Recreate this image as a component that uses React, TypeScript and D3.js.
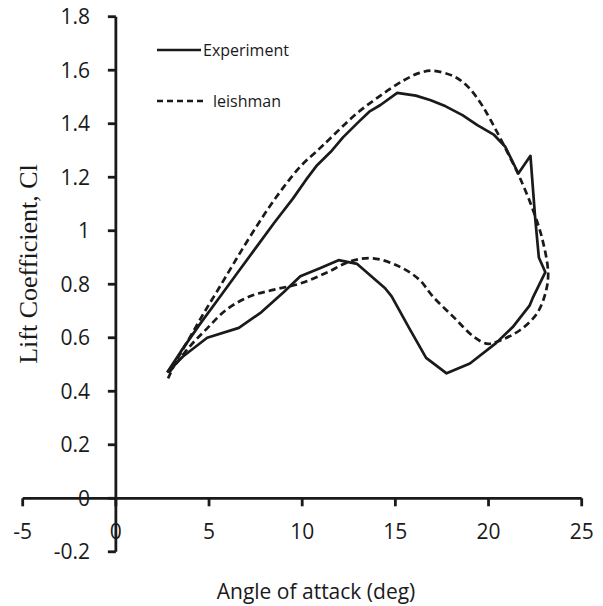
import React from "react";
import * as d3 from "d3";

const expAlpha = [2.75, 3.5, 4.5, 5.5, 6.5, 7.5, 8.5, 9.5, 10.2, 10.8, 11.6, 12.2, 13.0, 13.6, 14.2, 15.1, 16.1, 16.9, 17.7, 18.6, 19.4, 20.3, 20.9, 21.6, 22.25, 22.5, 22.7, 23.05,
  22.4, 22.2, 21.3, 20.4, 19.0, 17.75, 16.65, 15.75, 14.8, 14.45, 12.95, 11.95, 10.95, 9.9, 9.0, 7.8, 6.6, 4.9, 3.6, 2.75];
const expCl = [0.47, 0.55, 0.65, 0.745, 0.84, 0.935, 1.03, 1.12, 1.19, 1.245, 1.30, 1.35, 1.405, 1.445, 1.47, 1.515, 1.505, 1.488, 1.465, 1.432, 1.395, 1.358, 1.314, 1.214, 1.28, 1.05, 0.90, 0.845,
  0.753, 0.72, 0.64, 0.58, 0.504, 0.467, 0.525, 0.635, 0.755, 0.785, 0.876, 0.89, 0.86, 0.83, 0.77, 0.695, 0.637, 0.60, 0.53, 0.47];

const leishAlpha = [2.8, 3.3, 4.0, 4.7, 5.4, 6.3, 7.4, 8.6, 9.9, 10.9, 11.5, 12.9, 14.2, 15.4, 16.3, 17.0, 18.1, 18.8, 19.5, 20.1, 21.0, 21.7, 22.4, 22.9, 23.2,
  23.05, 22.6, 21.7, 20.45, 19.9, 19.2, 18.1, 17.0, 16.3, 15.25, 13.8, 12.6, 11.3, 9.9, 8.5, 7.2, 5.95, 4.9, 4.0, 3.1, 2.75];
const leishCl = [0.448, 0.52, 0.605, 0.69, 0.77, 0.875, 1.0, 1.125, 1.24, 1.305, 1.345, 1.437, 1.505, 1.56, 1.59, 1.598, 1.578, 1.545, 1.485, 1.415, 1.295, 1.195, 1.075, 0.965, 0.84,
  0.766, 0.691, 0.629, 0.585, 0.578, 0.604, 0.679, 0.755, 0.816, 0.865, 0.897, 0.886, 0.843, 0.803, 0.78, 0.755, 0.706, 0.635, 0.57, 0.492, 0.46];

const xTicks = [-5, 0, 5, 10, 15, 20, 25];
const yTicks = [-0.2, 0, 0.2, 0.4, 0.6, 0.8, 1, 1.2, 1.4, 1.6, 1.8];
const seriesNames = ["Experiment", "leishman"];

const W = 603, H = 606;
const INK = "#1a1a1a";
const SANS = "'Open Sans', sans-serif";

export default function App() {
  const x = d3.scaleLinear().domain([-5, 25]).range([22.7, 581.7]);
  const y = d3.scaleLinear().domain([-0.2, 1.8]).range([551.8, 16.7]);

  const expPts: [number, number][] = expAlpha.map((a, i) => [a, expCl[i]]);
  const leiPts: [number, number][] = leishAlpha.map((a, i) => [a, leishCl[i]]);

  const lineLin = d3.line<[number, number]>().x(d => x(d[0])).y(d => y(d[1]));
  const lineSmooth = d3.line<[number, number]>().x(d => x(d[0])).y(d => y(d[1])).curve(d3.curveCatmullRom.alpha(0.5));

  const fmt = (v: number) => (Math.abs(v) < 1e-9 ? "0" : String(+v.toFixed(1)));

  return (
    <svg width={W} height={H} style={{ position: "absolute", left: 0, top: 0, background: "#fff" }}>
      <rect width={W} height={H} fill="#fff" />
      {/* curves */}
      <path d={lineSmooth(leiPts) || ""} fill="none" stroke={INK} strokeWidth={2.7} strokeDasharray="7,4" />
      <path d={lineLin(expPts) || ""} fill="none" stroke={INK} strokeWidth={2.7} strokeLinejoin="round" />

      {/* x axis */}
      <line x1={x(-5)} x2={x(25)} y1={y(0)} y2={y(0)} stroke={INK} strokeWidth={2.8} />
      {xTicks.map(t => (
        <g key={"xt" + t}>
          <line x1={x(t)} x2={x(t)} y1={y(0)} y2={y(0) + 8} stroke={INK} strokeWidth={2.8} />
          <text x={x(t)} y={532} dy="0.35em" textAnchor="middle" fontFamily={SANS} fontSize={21} fill={INK}>{fmt(t)}</text>
        </g>
      ))}
      {/* y axis */}
      <line x1={x(0)} x2={x(0)} y1={y(-0.2)} y2={y(1.8)} stroke={INK} strokeWidth={2.8} />
      {yTicks.map(t => (
        <g key={"yt" + t}>
          <line x1={x(0) - 8} x2={x(0)} y1={y(t)} y2={y(t)} stroke={INK} strokeWidth={2.8} />
          <text x={90} y={y(t)} dy="0.35em" textAnchor="end" fontFamily={SANS} fontSize={21} fill={INK}>{fmt(t)}</text>
        </g>
      ))}

      {/* axis titles */}
      <text x={316} y={592} dy="0.35em" textAnchor="middle" fontFamily={SANS} fontSize={21} fill={INK}>Angle of attack (deg)</text>
      <text transform="translate(37,264) rotate(-90)" textAnchor="middle" fontFamily="'Liberation Serif', 'Times New Roman', serif" fontSize={26} fill={INK}>Lift Coefficient, Cl</text>

      {/* legend */}
      <line x1={157} x2={201} y1={50} y2={50} stroke={INK} strokeWidth={2.6} />
      <text x={203} y={50} dy="0.35em" fontFamily={SANS} fontSize={16} fill={INK}>{seriesNames[0]}</text>
      <line x1={157} x2={205} y1={101} y2={101} stroke={INK} strokeWidth={2.6} strokeDasharray="6,4" />
      <text x={213} y={101} dy="0.35em" fontFamily={SANS} fontSize={16} fill={INK}>{seriesNames[1]}</text>
    </svg>
  );
}
